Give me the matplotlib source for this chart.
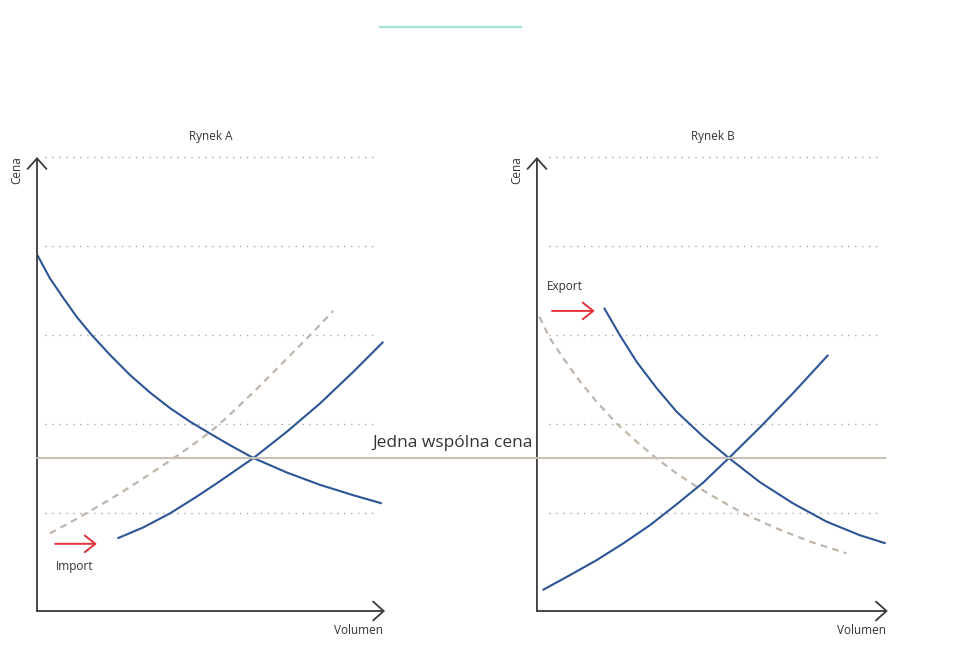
import matplotlib.pyplot as plt
from matplotlib.patches import ConnectionPatch
from matplotlib.lines import Line2D

plt.rcParams.update({
    "font.family": ["Open Sans", "DejaVu Sans"],
})

# price / volume (volume 0-100, price 0-100 per panel)
GRID_Y = [21.6, 41.2, 60.8, 80.4, 100.0]
COMMON_PRICE = 33.7

# Rynek A
a_demand_x = [0.1, 3.7, 7.6, 11.4, 15.7, 21.0, 26.7, 32.5, 38.2, 44.0,
              49.7, 55.5, 62.2, 71.8, 81.3, 90.9, 99.1]
a_demand_y = [78.4, 73.3, 68.9, 64.8, 60.8, 56.4, 52.0, 48.1, 44.7, 41.7,
              39.1, 36.5, 33.7, 30.5, 27.8, 25.5, 23.7]
a_supply_x = [23.1, 30.5, 38.2, 45.9, 51.6, 62.2, 71.8, 81.3, 90.9, 99.5]
a_supply_y = [16.0, 18.4, 21.5, 25.2, 28.1, 33.7, 39.5, 45.7, 52.7, 59.3]
a_shift_x = [3.7, 9.5, 15.2, 21.0, 26.7, 32.5, 38.2, 44.0, 49.7, 54.5,
             62.2, 71.8, 79.4, 85.1]
a_shift_y = [17.1, 19.5, 22.0, 24.6, 27.3, 30.2, 33.1, 36.2, 39.4, 42.6,
             48.2, 55.6, 61.5, 66.1]

# Rynek B
b_demand_x = [19.1, 23.6, 28.4, 34.1, 39.8, 47.4, 54.7, 63.5, 73.0, 82.5,
              92.0, 99.4]
b_demand_y = [66.8, 60.8, 54.9, 49.1, 43.9, 38.4, 33.7, 28.4, 23.7, 19.7,
              16.7, 14.9]
b_supply_x = [1.6, 9.4, 17.0, 24.6, 32.2, 39.8, 47.4, 54.7, 63.5, 73.0, 83.0]
b_supply_y = [4.6, 7.9, 11.2, 14.9, 18.9, 23.5, 28.3, 33.7, 40.4, 48.0, 56.4]
b_shift_x = [0.7, 3.7, 7.5, 12.3, 17.0, 22.7, 28.4, 34.1, 39.8, 45.5, 51.2,
             58.8, 68.3, 77.8, 88.2]
b_shift_y = [64.8, 60.1, 55.7, 50.5, 46.1, 41.3, 37.3, 33.6, 30.3, 27.4, 24.8,
             21.5, 18.2, 15.3, 12.7]

BLUE = "#2c5596"
SHIFT = "#c0b5ab"
RED = "#e5333a"
AXIS = "#3a3a3a"
TEXT = "#333333"
DOTS = "#a8a8a8"
PRICE_LINE = "#c9c0b8"

fig = plt.figure(figsize=(9.64, 6.57), dpi=100)
fig.patch.set_facecolor("white")

# teal accent at the top
fig.add_artist(Line2D([0.394, 0.540], [0.959, 0.959], color="#9fe3d9", lw=1.6,
                      transform=fig.transFigure))

ax_a = fig.add_axes([0.0384, 0.070, 0.361, 0.691])
ax_b = fig.add_axes([0.557, 0.070, 0.364, 0.691])


def draw_frame(ax, title, grid_x0, grid_x1):
    ax.set_xlim(0, 100)
    ax.set_ylim(0, 100)
    ax.axis("off")
    for gy in GRID_Y:
        ax.plot([grid_x0, grid_x1], [gy, gy], color=DOTS, lw=1.0,
                ls=(0, (1, 4)), zorder=1, clip_on=False)
    arrow = dict(arrowstyle="->,head_length=0.38,head_width=0.34",
                 color=AXIS, lw=1.3, mutation_scale=20, shrinkA=0, shrinkB=0)
    ax.annotate("", xy=(100, 0), xytext=(0, 0), arrowprops=arrow,
                annotation_clip=False, zorder=5)
    ax.annotate("", xy=(0, 100), xytext=(0, 0), arrowprops=arrow,
                annotation_clip=False, zorder=5)
    ax.text(50, 104.6, title, ha="center", va="center", fontsize=8.5,
            color=TEXT)
    ax.text(-5.7, 97.1, "Cena", ha="center", va="center", rotation=90,
            fontsize=8.5, color=TEXT)
    ax.text(92.4, -4.2, "Volumen", ha="center", va="center", fontsize=8.5,
            color=TEXT)


draw_frame(ax_a, "Rynek A", 2.3, 97.0)
draw_frame(ax_b, "Rynek B", 3.4, 97.7)

# one common price across both markets
price = ConnectionPatch(xyA=(0, COMMON_PRICE), coordsA=ax_a.transData,
                        xyB=(99.4, COMMON_PRICE), coordsB=ax_b.transData,
                        color=PRICE_LINE, lw=1.5, zorder=2)
fig.add_artist(price)
ax_b.text(-1.1, 35.2, "Jedna wspólna cena", ha="right", va="bottom",
          fontsize=12.5, color=TEXT)

dash = (0, (3, 2.4))
curve = dict(color=BLUE, lw=1.5, zorder=4, clip_on=False,
             solid_joinstyle="round", solid_capstyle="butt")
ax_a.plot(a_shift_x, a_shift_y, color=SHIFT, lw=1.6, ls=dash, zorder=3,
          clip_on=False)
ax_a.plot(a_demand_x, a_demand_y, **curve)
ax_a.plot(a_supply_x, a_supply_y, **curve)

ax_b.plot(b_shift_x, b_shift_y, color=SHIFT, lw=1.6, ls=dash, zorder=3,
          clip_on=False)
ax_b.plot(b_demand_x, b_demand_y, **curve)
ax_b.plot(b_supply_x, b_supply_y, **curve)

red_arrow = dict(arrowstyle="->,head_length=0.38,head_width=0.3",
                 color=RED, lw=1.4, mutation_scale=20, shrinkA=0, shrinkB=0)
ax_a.annotate("", xy=(17.2, 14.8), xytext=(5.2, 14.8), arrowprops=red_arrow,
              zorder=6)
ax_a.text(10.9, 9.7, "Import", ha="center", va="center", fontsize=8.5,
          color=TEXT)
ax_b.annotate("", xy=(16.5, 66.1), xytext=(4.3, 66.1), arrowprops=red_arrow,
              zorder=6)
ax_b.text(8.0, 71.4, "Export", ha="center", va="center", fontsize=8.5,
          color=TEXT)

fig.savefig("out.png", dpi=100, facecolor="white")
